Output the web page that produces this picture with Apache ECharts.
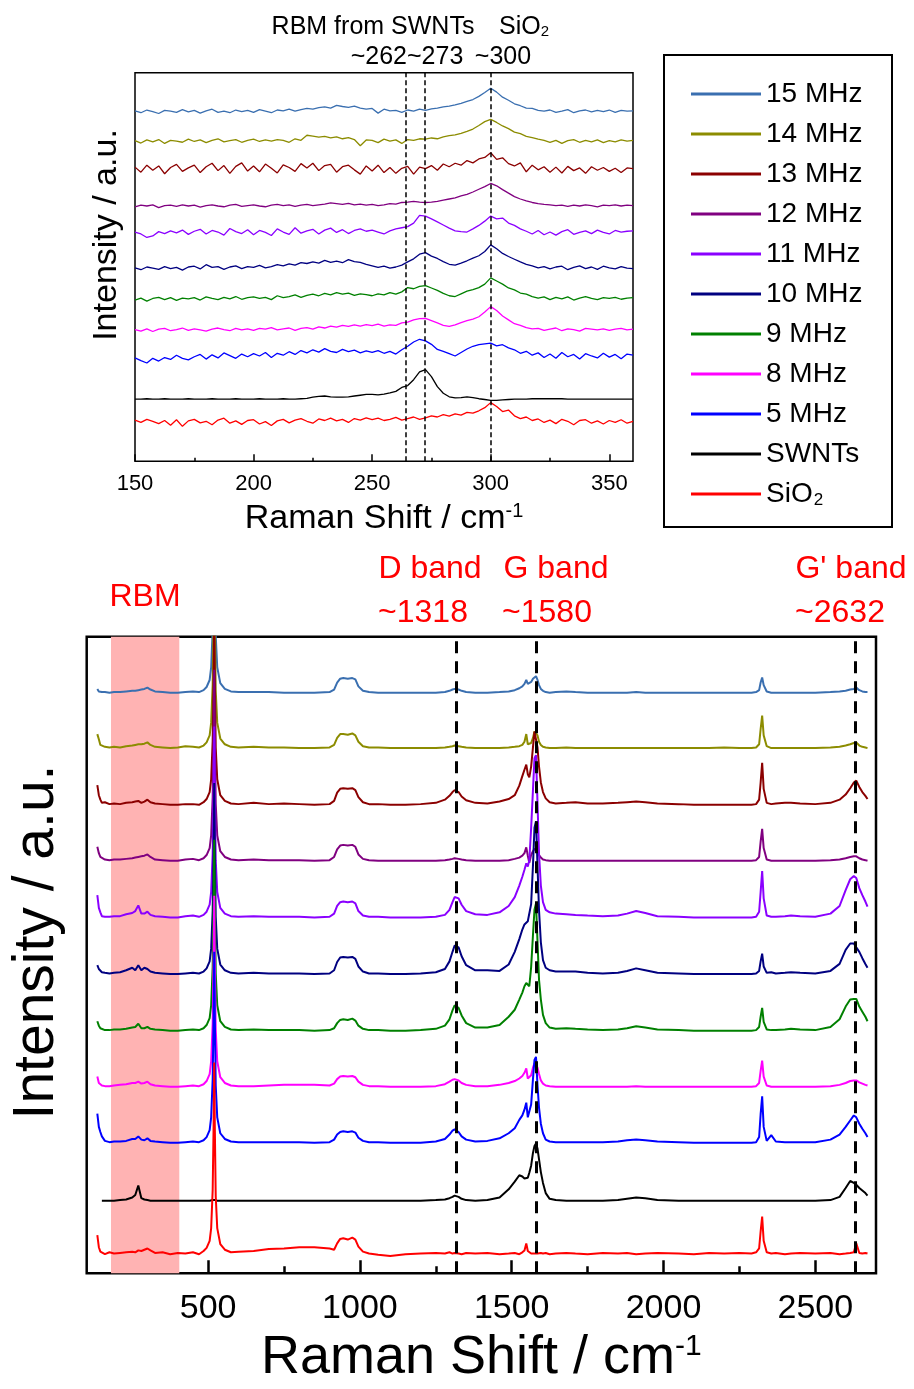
<!DOCTYPE html>
<html><head><meta charset="utf-8">
<script src="https://cdn.jsdelivr.net/npm/echarts@6/dist/echarts.min.js"></script>
<style>html,body{margin:0;padding:0;background:#fff}#c{width:914px;height:1389px}</style>
</head><body><div id="c"></div><script>
const seriesNames = ['15 MHz','14 MHz','13 MHz','12 MHz','11 MHz','10 MHz','9 MHz','8 MHz','5 MHz','SWNTs','SiO2'];
const colors = ['#3a6fb0','#8c8c00','#8b0000','#800080','#8a00ff','#000080','#008000','#ff00ff','#0000ff','#000000','#ff0000'];

// ---------- inset (RBM region) ----------
const topTicks = [150,200,250,300,350];
const topMinorTicks = [175,225,275,325];
const topMarks = [264,272,300];
const topOffsets = [90.0,82.4,75.2,65.7,58.8,49.7,41.8,33.8,27.1,16.0,10.2];
const topX = [150,152.5,155,157.5,160,162.5,165,167.5,170,172.5,175,177.5,180,182.5,185,187.5,190,192.5,195,197.5,200,202.5,205,207.5,210,212.5,215,217.5,220,222.5,225,227.5,230,232.5,235,237.5,240,242.5,245,247.5,250,252.5,255,257.5,260,262.5,265,267.5,270,272.5,275,277.5,280,282.5,285,287.5,290,292.5,295,297.5,300,302.5,305,307.5,310,312.5,315,317.5,320,322.5,325,327.5,330,332.5,335,337.5,340,342.5,345,347.5,350,352.5,355,357.5,360];
const t15 = [0.2,-0.3,0.4,0,-0.5,0.3,0.1,-0.2,0.5,-0.1, 0.3,-0.4,0.2,0.6,-0.2,0.1,-0.3,0.4,0,0.3, -0.2,0.5,0.1,-0.3,0.4,0.2,0.6,0.1,0.5,0.8, 0.6,1.0,1.2,0.9,1.6,1.3,1.1,1.4,0.9,0.6, 0.8,-0.4,0.6,0.2,0.3,-0.2,0.4,0.1,0.6,0.3, 0.7,0.9,1.2,1.4,1.7,2.1,2.6,3.1,3.9,4.9, 6.0,5.0,3.7,2.9,2.0,1.5,0.9,0.8,0.3,0.1, 0.4,-0.2,0.1,0.5,-0.3,0.2,0.4,-0.1,0.3,0, 0.4,-0.2,0.3,0.1,0.2];
const t14 = [0.1,-0.5,0.3,-0.2,0.4,-0.6,0.2,0.0,-0.3,0.5, -0.1,0.3,-0.4,0.2,0.6,-0.2,0.1,0.4,-0.3,0.2, 0.5,-0.1,0.3,0.0,0.4,0.2,-0.3,0.6,0.2,1.5, 1.3,1.0,1.2,0.8,1.1,0.6,0.9,0.4,-1.2,0.3, 0.2,-0.4,0.5,0.0,0.3,-0.6,0.4,0.2,0.6,0.5, 0.8,0.6,1.1,1.4,1.6,2.0,2.5,3.1,4.0,5.0, 5.6,4.8,3.9,3.2,2.3,1.9,1.2,0.9,0.5,0.2, -0.3,0.2,-0.6,0.1,0.4,-0.3,0.2,-0.2,0.3,-0.4, 0.1,-0.2,0.3,0,0.2];
const t13 = [0.5,-0.8,1.0,-0.3,0.8,-1.2,0.4,1.2,-0.6,0.3, 1.0,-0.9,0.6,1.5,-0.4,0.9,-1.1,0.7,1.6,-0.5, 0.8,-0.7,1.3,0.2,-1.0,1.1,0.4,-0.6,1.4,0.3, 1.5,-0.4,0.9,1.2,-0.8,0.6,1.0,-0.2,-1.3,0.8, -0.5,1.0,-0.9,0.4,-1.1,0.2,0.7,-1.3,0.5,0.1, 0.9,-0.3,1.3,0.6,1.5,1.0,2.2,1.6,2.6,3.0, 4.2,2.5,2.9,1.4,0.8,1.6,-0.7,1.0,-0.2,0.6, -0.8,0.5,-1.0,0.7,-0.4,0.3,-1.1,0.6,-0.3,0.4, -0.6,0.2,-0.9,0.3,0.1];
const t12 = [-0.2,0.2,0.0,0.3,-0.4,0.1,0.2,-0.1,0.3,0, 0.2,-0.3,0.1,0.3,0,-0.2,0.2,0.4,-0.1,0.1, 0.3,0,-0.2,0.2,0.4,0.1,0.3,-0.1,0.2,0.4, 0.1,0.3,0.5,0.8,0.6,0.4,0.7,0.3,0.5,0.2, 0.4,0.1,0.3,0.6,0.5,0.9,1.0,1.2,1.0,0.9, 1.0,1.2,1.5,1.8,2.1,2.6,3.0,3.6,4.3,5.0, 5.8,5.2,4.2,3.3,2.4,1.8,1.3,0.9,0.6,0.4, 0.3,0.1,0.2,-0.1,0.2,0,0.3,0.1,-0.2,0.2, 0.1,0.3,0,0.2,0.1];
const t11 = [0.2,-0.3,-1.2,-0.8,0.3,-0.2,0.5,0.0,0.7,-0.4, 0.4,0.9,-0.3,0.6,0.2,-0.6,1.1,0.3,-0.2,0.8, -0.5,0.6,0.1,-0.7,1.0,0.2,-0.4,1.3,-0.1,0.5, 0.9,-0.3,0.7,1.2,0.1,0.8,-0.2,0.6,1.0,0.4, 0.7,0.2,-0.3,0.5,1.0,1.3,1.6,2.5,4.5,4.3, 3.6,2.8,2.0,1.2,0.5,0.3,0.2,1.0,1.9,3.0, 4.3,3.6,3.8,2.5,1.9,1.0,0.4,-0.3,0.6,-0.5, 0.2,-0.6,0.3,0.8,-0.4,0.1,0.5,-0.2,0.7,0.1, -0.3,0.6,0.2,0.4,0.5];
const t10 = [0.1,-0.4,0.3,0.0,-0.3,0.4,-0.1,0.2,-0.5,0.3, 0.5,-0.2,0.9,0.2,0.4,-0.3,0.3,0.6,-0.1,0.4, 0.2,0.7,0.1,0.4,0.9,0.6,1.1,0.8,1.4,1.2, 1.6,1.3,2.0,1.5,1.8,1.4,2.2,1.7,1.5,1.0, 0.6,0.2,0.5,0.0,0.3,0.8,1.6,2.4,3.6,4.0, 3.1,2.5,1.7,1.0,0.8,1.3,1.9,2.6,3.2,4.3, 6.0,5.0,3.8,3.0,2.3,1.6,1.0,0.6,0.1,0.4, -0.2,0.3,0.5,-0.4,0.2,0.6,-0.1,0.3,-0.3,0.5, 0.1,-0.2,0.4,0.0,-0.1];
const t9 = [-0.3,0.2,-0.6,0.1,0.4,-0.2,0.3,-0.4,0.2,0.0, 0.3,-0.3,0.5,0.1,-0.2,0.4,0.0,0.6,-0.1,0.3, 0.5,0.1,0.4,-0.2,0.8,0.3,0.6,1.0,0.4,0.9, 1.2,0.8,1.4,1.0,1.6,1.2,1.5,0.9,1.3,1.1, 0.8,1.3,1.0,1.6,1.2,1.8,2.9,2.6,3.2,3.4, 2.8,2.2,1.4,0.8,0.6,1.3,2.0,2.4,2.9,3.8, 5.4,4.6,3.8,2.8,2.3,1.5,1.2,0.6,0.2,0.5, -0.2,0.4,0.0,0.5,-0.3,0.2,0.6,0.1,-0.2,0.3, 0.1,0.4,-0.1,0.2,0.3];
const t8 = [0.1,-0.3,0.3,-0.4,0.2,0.4,-0.2,0.1,0.5,-0.1, 0.3,0.0,-0.3,0.2,0.5,0.1,-0.2,0.4,0.0,0.3, -0.1,0.4,0.2,0.6,0.0,0.3,0.5,-0.1,0.4,0.6, 0.2,0.8,0.5,1.0,0.7,1.2,0.9,1.3,1.0,1.4, 1.1,1.5,1.0,1.3,1.2,1.8,2.0,2.6,2.9,3.0, 2.4,1.8,1.2,0.9,1.3,1.9,2.4,2.8,3.4,4.6, 6.0,5.0,3.6,2.6,1.6,1.2,0.6,0.3,0.4,-0.1, 0.2,0.5,-0.2,0.3,0.1,-0.3,0.4,0.2,0.0,0.3, -0.1,0.2,0.4,0.0,0.2];
const t5 = [-0.5,-1.2,-1.8,-0.6,-1.3,-0.4,-0.9,0.2,-0.6,-1.0, -0.2,0.4,-0.8,0.3,-0.5,0.8,0.1,-0.6,0.5,-0.2, 0.6,0.0,0.9,-0.4,0.7,0.2,1.1,0.4,1.4,0.8, 1.6,1.0,1.9,1.2,0.9,1.7,1.1,1.5,0.8,1.3, 0.9,1.4,0.7,1.2,0.5,1.6,2.5,3.6,4.3,3.9, 3.0,1.7,1.2,0.6,0.0,0.9,1.8,2.5,2.9,3.1, 3.3,2.6,2.9,2.1,1.6,0.7,1.2,0.2,0.8,-0.4, 0.5,-0.6,0.9,-0.2,0.4,-0.8,0.6,0.0,-0.5,0.7, -0.3,0.4,-0.7,0.5,0.2];
const tSW = [0,0,0.1,0,0,0.1,0,0,0,0.1, 0,0,0,0.1,0,0,0,0.1,0,0, 0,0.1,0,0,0,0.1,0,0,0.1,0.2, 0.5,0.7,0.8,0.6,0.5,0.5,0.6,0.8,1.0,1.2, 1.2,1.1,1.3,1.6,2.0,3.0,3.5,5.0,7.0,7.6, 5.8,3.2,1.5,0.6,0.3,0.4,0.6,0.4,0.1,-0.1, -0.3,-0.3,-0.2,-0.1,0,0,0,0.1,0.1,0.1, 0.1,0.1,0.1,0,0,0,0,0,0,0, 0,0,0,0,0];
const tSi = [0.4,-0.2,0.6,0.1,-0.5,0.3,-0.9,0.5,-1.2,0.2, 0.6,-0.3,0.1,-0.8,0.4,0.9,-0.4,0.2,-0.7,0.3, 0.5,-0.6,0.0,-1.0,0.2,0.6,-0.3,0.4,0.8,0.1, -0.4,0.7,0.3,0.9,0.2,0.6,-0.2,0.8,0.4,1.0, 0.5,0.9,0.3,0.6,1.1,0.4,0.8,1.2,0.6,1.0, 1.5,1.2,1.8,1.4,2.0,1.7,2.4,2.2,2.8,3.6, 4.9,3.9,2.6,3.0,1.5,0.8,1.2,0.3,0.7,-0.2, 0.4,-0.5,0.6,0.1,-0.8,0.3,0.5,-0.4,0.2,-0.6, 0.3,-0.2,0.5,-0.4,0.1];
const topSpectra = [t15,t14,t13,t12,t11,t10,t9,t8,t5,tSW,tSi];

// ---------- full spectra ----------
const botTicks = [500,1000,1500,2000,2500];
const botMinorTicks = [250,750,1250,1750,2250];
const botMarks = [1318,1580,2632];
const rbmBand = [180,405];
const botOffsets = [91.2,82.5,73.6,64.8,55.9,47.0,38.1,29.3,20.5,11.4,3.1];
const botX = [135,140,145,150,160,175,190,210,230,250, 260,270,280,290,300,310,325,350,375,400, 425,450,470,485,495,505,510,515,518,520, 522,525,530,540,555,575,600,650,700,750, 800,850,900,915,925,935,945,960,975,985, 995,1010,1030,1060,1100,1150,1200,1250,1280,1295, 1305,1312,1318,1325,1335,1350,1380,1420,1460,1490, 1510,1525,1535,1542,1548,1553,1558,1564,1570,1575, 1580,1585,1590,1596,1603,1612,1625,1645,1680,1710, 1750,1800,1850,1880,1910,1940,1980,2050,2100,2150, 2200,2250,2290,2305,2315,2320,2325,2330,2340,2355, 2370,2400,2420,2450,2500,2550,2580,2600,2615,2627, 2635,2645,2655,2665,2672];
const b15 = [0.6,0.2,0.4,0.1,0.1,0.0,0.1,0.1,0.2,0.3, 0.3,0.4,0.5,0.6,0.8,0.5,0.2,0.1,0.0,0.0, 0.1,0.2,0.1,0.4,0.9,2,4,10,20,30, 20,9,4,1.5,0.6,0.2,0.1,0.1,0.1,0.0, 0.0,0.0,0.1,0.5,1.6,2.2,2.3,2.2,2.3,2.1, 1.0,0.3,0.1,0.0,0.0,0.0,0.0,0.0,0.1,0.3, 0.5,0.6,0.6,0.5,0.3,0.1,0.0,0.0,0.1,0.2, 0.4,0.7,1.0,1.4,2.0,1.4,1.3,1.7,2.2,2.4, 2.6,2.0,1.2,0.6,0.3,0.1,0.0,0.1,0.2,0.1, 0,0,0,0,0.1,0,0,0,0,0, 0,0,0,0.1,0.4,1.6,2.4,1.2,0.2,0, 0,0,0,0,0,0.1,0.2,0.3,0.5,0.6, 0.8,0.4,0.2,0.1,0.1];
const b14 = [2.2,1.4,0.5,0.2,0.2,0.1,0.2,0.1,0.3,0.4, 0.5,0.6,0.6,0.7,0.9,0.5,0.2,0.1,0.0,0.1, 0.3,0.2,0.1,0.4,0.9,2,4,10,20,30, 20,9,4,1.5,0.6,0.2,0.1,0.2,0.1,0.1, 0.0,0.0,0.1,0.5,1.6,2.2,2.2,2.1,2.3,2.0, 1.0,0.3,0.1,0.1,0.0,0.0,0.0,0.0,0.1,0.2, 0.3,0.4,0.4,0.3,0.2,0.1,0.0,0.0,0.0,0.1, 0.2,0.3,0.5,1.0,2.2,0.6,0.4,0.8,1.6,2.6, 2.9,2.0,1.0,0.5,0.2,0.1,0.0,0.0,0.1,0.0, 0,0,0,0,0,0,0,0,0,0, 0.1,0,0,0.1,0.6,3.0,5.1,2.0,0.3,0, 0,0,0,0,0,0.1,0.2,0.4,0.6,0.8, 0.9,0.4,0.2,0.1,0.0];
const b13 = [3.1,1.5,0.8,0.3,0.4,0.1,0.2,0.1,0.3,0.4, 0.5,0.6,0.3,0.5,0.8,0.4,0.2,0.1,0.0,0.0, 0.1,0.1,0.0,0.4,0.9,2,4,10,20,30, 20,9,4,1.5,0.6,0.2,0.1,0.3,0.1,0.2, 0.1,0.0,0.1,0.6,1.9,2.5,2.6,2.5,2.6,2.3, 1.2,0.4,0.1,0.1,0.0,0.0,0.1,0.3,0.8,1.4, 2.0,2.3,2.4,2.0,1.3,0.7,0.3,0.2,0.5,0.9, 1.5,3.0,4.5,5.5,6.3,4.8,4.3,6.0,9.0,11.5, 11.8,9.0,6.0,3.5,2.0,1.0,0.4,0.2,0.3,0.4, 0.2,0.2,0.3,0.4,0.5,0.4,0.2,0.1,0.0,0.0, 0,0,0,0.1,0.8,3.5,6.6,2.5,0.3,0.1, 0.2,0.3,0.3,0.2,0.1,0.3,0.8,1.6,2.6,3.5, 3.8,2.8,2.0,1.4,0.9];
const b12 = [2.2,1.2,0.6,0.3,0.2,0.1,0.2,0.2,0.3,0.4, 0.5,0.6,0.7,0.8,1.0,0.6,0.2,0.1,0.0,0.0, 0.2,0.3,0.1,0.4,0.9,2,4,10,20,30, 20,9,4,1.5,0.6,0.2,0.1,0.2,0.1,0.1, 0.1,0.0,0.1,0.6,1.8,2.4,2.5,2.4,2.5,2.2, 1.0,0.3,0.1,0.0,0.0,0.0,0.0,0.0,0.1,0.2, 0.3,0.4,0.5,0.3,0.2,0.1,0.0,0.0,0.0,0.1, 0.3,0.5,0.8,1.2,2.1,0.8,-0.3,0.9,1.5,1.9, 2.0,1.5,0.9,0.5,0.2,0.1,0.0,0.0,0.0,0.0, 0,0,0,0,0,0,0,0,0,0, 0,0,0,0.1,0.6,3.0,5.0,2.0,0.2,0, 0,0,0,0,0,0.1,0.2,0.4,0.6,0.7, 0.7,0.4,0.2,0.1,0.0];
const b11 = [3.5,1.5,0.8,0.2,0.1,0.1,0.2,0.2,0.5,0.7, 1.0,1.9,0.6,0.6,0.9,0.4,0.2,0.1,0.0,0.0, 0.2,0.3,0.1,0.4,0.9,2,4,10,20,30, 20,9,4,1.5,0.6,0.2,0.1,0.2,0.1,0.1, 0.1,0.0,0.1,0.6,1.8,2.4,2.5,2.4,2.5,2.2, 1.0,0.3,0.1,0.1,0.0,0.0,0.0,0.1,0.4,1.2, 2.4,3.2,3.5,3.0,2.0,1.0,0.5,0.4,0.8,1.8, 3.2,5.0,6.4,7.5,8.5,8.0,9.0,14.0,20.0,25.0, 25.5,18.0,10.0,5.0,2.4,1.2,0.8,0.6,0.5,0.4, 0.3,0.2,0.3,0.6,1.0,0.7,0.2,0.1,0.0,0.0, 0,0,0,0.1,0.9,4.0,7.3,3.0,0.3,0.1, 0.1,0.2,0.3,0.2,0.1,0.6,1.8,4.3,6.0,6.5, 6.2,4.6,3.5,2.5,1.7];
const b10 = [1.4,0.8,0.5,0.3,0.2,0.1,0.2,0.3,0.6,1.0, 0.6,1.4,0.6,1.0,0.8,0.4,0.2,0.1,0.0,0.0, 0.1,0.2,0.1,0.4,0.9,2,4,10,20,30, 20,9,4,1.5,0.6,0.2,0.1,0.2,0.1,0.1, 0.1,0.0,0.1,0.6,1.9,2.6,2.7,2.6,2.7,2.4, 1.2,0.4,0.1,0.1,0.0,0.0,0.1,0.3,0.8,2.0, 3.5,4.5,4.8,4.2,2.8,1.4,0.6,0.6,0.5,1.5, 3.5,5.5,7.0,7.8,8.0,8.3,8.6,11.0,17.0,23.0, 24.0,17.0,10.0,5.0,2.2,1.0,0.6,0.4,0.4,0.4, 0.2,0.1,0.2,0.5,0.9,0.6,0.2,0.1,0.0,0.0, 0,0,0,0.1,0.5,2.0,3.2,1.2,0.2,0.3, 0.1,0.2,0.3,0.2,0.1,0.5,1.6,3.8,4.8,4.8, 4.2,3.5,2.5,1.6,1.0];
const b9 = [1.5,0.8,0.4,0.2,0.1,0.1,0.2,0.2,0.3,0.5, 0.6,1.1,0.4,0.4,0.6,0.3,0.2,0.1,0.0,0.0, 0.1,0.2,0.1,0.4,0.9,2,4,10,20,30, 20,9,4,1.5,0.6,0.2,0.1,0.2,0.1,0.1, 0.1,0.0,0.1,0.4,1.2,1.7,1.8,1.7,1.9,1.6, 0.8,0.3,0.1,0.1,0.0,0.0,0.1,0.3,0.8,1.8, 3.2,4.0,4.2,3.6,2.4,1.2,0.5,0.5,0.9,2.2, 3.3,4.9,6.0,7.0,7.5,7.2,7.0,10.0,15.0,19.0, 20.0,14.0,8.0,4.9,2.5,1.2,0.5,0.3,0.4,0.3, 0.2,0.1,0.2,0.4,0.7,0.5,0.2,0.1,0.0,0.0, 0,0,0,0.1,0.6,2.2,3.6,1.4,0.2,0.1, 0.1,0.2,0.3,0.2,0.1,0.6,1.8,3.8,4.9,5.0, 5.0,3.8,3.0,2.2,1.5];
const b8 = [1.6,0.6,0.3,0.2,0.1,0.1,0.2,0.3,0.4,0.6, 0.6,0.8,0.5,0.6,0.8,0.4,0.2,0.1,0.0,0.0, 0.1,0.2,0.1,0.4,0.9,2,4,10,20,30, 20,9,4,1.5,0.6,0.2,0.1,0.1,0.2,0.3, 0.3,0.3,0.2,0.5,1.2,1.6,1.7,1.6,1.7,1.5, 0.8,0.3,0.1,0.1,0.0,0.0,0.0,0.1,0.4,0.8, 1.1,1.2,1.2,1.0,0.6,0.3,0.1,0.1,0.3,0.6, 0.9,1.3,1.7,2.2,2.9,1.3,1.0,1.8,3.0,3.7, 3.8,3.0,2.0,1.0,0.5,0.2,0.1,0.0,0.0,0.0, 0,0,0,0,0.1,0,0,0,0,0, 0,0,0,0.1,0.6,2.5,4.1,1.6,0.2,0, 0,0,0,0,0,0.1,0.3,0.6,0.9,1.0, 1.0,0.7,0.5,0.3,0.2];
const b5 = [4.6,2.5,1.7,1.0,0.3,0.1,0.2,0.2,0.3,0.6, 0.6,1.0,0.5,0.4,0.7,0.3,0.2,0.1,0.0,0.0, 0.1,0.2,0.1,0.4,0.9,2,4,10,20,30, 20,9,4,1.5,0.6,0.2,0.1,0.1,0.1,0.1, 0.1,0.0,0.1,0.5,1.3,1.7,1.8,1.7,1.8,1.6, 0.8,0.3,0.1,0.1,0.0,0.0,0.0,0.2,0.6,1.3, 1.9,2.1,2.1,1.7,1.0,0.5,0.2,0.3,0.7,1.5, 2.3,3.6,4.3,5.2,6.3,4.0,3.8,6.0,10.0,13.0, 13.5,9.0,5.5,3.0,1.5,0.5,0.2,0.1,0.1,0.1, 0.1,0.1,0.2,0.4,0.5,0.4,0.2,0.1,0.0,0.0, 0,0,0,0.1,0.9,4.5,7.3,2.5,0.3,1.2, 0.2,0.1,0.1,0.1,0.1,0.5,1.3,2.5,3.5,4.3, 4.0,3.0,2.2,1.5,0.9];
const bSW = [null,null,null,0.0,0.0,0.0,0.0,0.1,0.2,0.5, 0.9,2.4,0.4,0.2,0.1,0.0,0.0,0.0,0.0,0.0, 0.0,0.0,0.0,0.0,0.0,0.0,0.0,0.1,0.1,0.1, 0.1,0.1,0.0,0.0,0.0,0.0,0.0,0.0,0.0,0.0, 0,0,0,0,0,0,0,0,0,0, 0.0,0.0,0.0,0.0,0.0,0.0,0.0,0.1,0.2,0.4, 0.6,0.8,0.9,0.6,0.3,0.1,0.0,0.1,0.5,1.8, 3.0,4.0,3.8,3.5,3.2,3.6,4.4,5.5,7.5,8.6, 9.0,8.2,6.5,4.5,2.8,1.2,0.3,0.1,0.0,0.0, 0.0,0.0,0.1,0.3,0.5,0.4,0.1,0.0,0.0,0.0, 0,0,0,0,0,0,0,0,0,0, 0.0,0.0,0.0,0.0,0.0,0.1,0.6,2.0,3.1,2.8, 2.5,2.0,1.6,1.2,0.8];
const bSi = [2.9,1.0,0.3,0.1,-0.1,0.2,0.0,0.1,0.2,0.3, 0.2,0.5,0.4,0.6,0.8,0.5,0.1,0.2,-0.1,0.1, 0.0,0.2,-0.1,0.4,0.9,2,4,10,20,30, 20,9,4,1.5,0.6,0.2,0.3,0.4,0.7,0.8, 1.0,1.0,0.8,0.6,1.6,2.3,2.4,2.2,2.5,2.2, 1.1,0.3,0.0,-0.2,-0.4,-0.1,0.0,0.1,0.0,0.2, 0.0,0.1,0.2,0.0,-0.1,0.1,0.0,0.1,-0.1,0.0, 0.1,-0.1,0.2,0.5,1.6,0.4,0.1,0.0,0.1,0.0, 0.1,0.0,-0.1,0.1,0.0,0.1,-0.1,0.0,0.1,0.0, -0.1,0.1,0.0,0.1,-0.1,0.0,0.1,0.0,-0.1,0.1, 0.0,0.1,0.0,0.2,0.8,3.5,5.8,2.0,0.2,0.0, 0.1,-0.1,0.0,0.1,0.0,0.1,-0.1,0.0,0.1,0.2, 1.6,0.1,0.0,0.1,0.0];
const botSpectra = [b15,b14,b13,b12,b11,b10,b9,b8,b5,bSW,bSi];

const FONT = 'Liberation Sans, Arial, sans-serif';
const chart = echarts.init(document.getElementById('c'), null, {renderer:'canvas'});

const series = [];
seriesNames.forEach((n,k)=>{
  series.push({name:n,type:'line',xAxisIndex:0,yAxisIndex:0,symbol:'none',silent:true,animation:false,z:3,
    lineStyle:{color:colors[k],width:1.3},itemStyle:{color:colors[k]},
    data: topX.map((x,i)=>[x, topSpectra[k][i]+topOffsets[k]])});
});
seriesNames.forEach((n,k)=>{
  series.push({name:n,type:'line',xAxisIndex:1,yAxisIndex:1,symbol:'none',silent:true,animation:false,z:3,
    lineStyle:{color:colors[k],width:2},itemStyle:{color:colors[k]},
    data: botX.map((x,i)=>[x, botSpectra[k][i]===null?null:botSpectra[k][i]+botOffsets[k]])});
});
series.push({type:'line',xAxisIndex:1,yAxisIndex:1,data:[],silent:true,z:1,
  markArea:{silent:true,itemStyle:{color:'#ffb3b3'},data:[[{xAxis:rbmBand[0]},{xAxis:rbmBand[1]}]]}});
series.push({type:'line',xAxisIndex:0,yAxisIndex:0,data:[],silent:true,z:5,
  markLine:{silent:true,symbol:['none','none'],label:{show:false},animation:false,
    lineStyle:{color:'#000',type:[5,3],width:1.5},data:topMarks.map(v=>({xAxis:v}))}});
series.push({type:'line',xAxisIndex:1,yAxisIndex:1,data:[],silent:true,z:5,
  markLine:{silent:true,symbol:['none','none'],label:{show:false},animation:false,
    lineStyle:{color:'#000',type:[12,8],width:3},data:botMarks.map(v=>({xAxis:v}))}});

const plain = v => String(v);
chart.setOption({
  animation:false,
  textStyle:{fontFamily:FONT},
  legend:{orient:'vertical',left:686,top:74,itemWidth:70,itemHeight:3,itemGap:10,icon:'rect',
    data:seriesNames, selectedMode:false,
    formatter:n=> n==='SiO2' ? 'SiO{s|2}' : n,
    textStyle:{fontSize:28,lineHeight:30,color:'#000',fontFamily:FONT,
      rich:{s:{fontSize:17,verticalAlign:'bottom',fontFamily:FONT,color:'#000',padding:[0,0,0,1]}}}},
  grid:[
    {left:135,top:72.7,width:498,height:388.6,show:true,borderColor:'#000',borderWidth:1.5,backgroundColor:'transparent'},
    {left:86.7,top:636.7,width:789.3,height:636.6,show:true,borderColor:'#000',borderWidth:2.5,backgroundColor:'transparent'}
  ],
  xAxis:[
    {type:'value',gridIndex:0,min:150,max:360,position:'bottom',
      axisLine:{show:false},splitLine:{show:false},
      axisTick:{show:true,inside:true,length:7,customValues:topTicks,lineStyle:{color:'#000',width:1.5}},
      axisLabel:{customValues:topTicks,formatter:plain,fontSize:22,margin:12,color:'#000',fontFamily:FONT},
      name:'Raman Shift / cm{sup|-1}',nameLocation:'middle',nameGap:40,
      nameTextStyle:{fontSize:34,color:'#000',fontFamily:FONT,rich:{sup:{fontSize:20,verticalAlign:'top',fontFamily:FONT,color:'#000'}}}},
    {type:'value',gridIndex:1,min:100,max:2700,position:'bottom',
      axisLine:{show:false},splitLine:{show:false},
      axisTick:{show:true,inside:true,length:13,customValues:botTicks,lineStyle:{color:'#000',width:2.5}},
      axisLabel:{customValues:botTicks,formatter:plain,fontSize:34,margin:18,color:'#000',fontFamily:FONT},
      name:'Raman Shift / cm{sup|-1}',nameLocation:'middle',nameGap:58,
      nameTextStyle:{fontSize:54,color:'#000',fontFamily:FONT,rich:{sup:{fontSize:30,verticalAlign:'top',fontFamily:FONT,color:'#000'}}}},
    {type:'value',gridIndex:0,min:150,max:360,position:'bottom',
      axisLine:{show:false},splitLine:{show:false},axisLabel:{show:false},
      axisTick:{show:true,inside:true,length:3.5,customValues:topMinorTicks,lineStyle:{color:'#000',width:1.5}}},
    {type:'value',gridIndex:1,min:100,max:2700,position:'bottom',
      axisLine:{show:false},splitLine:{show:false},axisLabel:{show:false},
      axisTick:{show:true,inside:true,length:7,customValues:botMinorTicks,lineStyle:{color:'#000',width:2.5}}}
  ],
  yAxis:[
    {type:'value',gridIndex:0,min:0,max:100,show:false},
    {type:'value',gridIndex:1,min:0,max:100,show:false}
  ],
  graphic:[
    {type:'rect',shape:{x:664,y:55,width:228,height:472},style:{fill:'none',stroke:'#000',lineWidth:2},z:10},
    {type:'text',x:107,y:235,rotation:Math.PI/2,style:{text:'Intensity / a.u.',font:'34px '+FONT,fill:'#000',align:'center',verticalAlign:'middle'}},
    {type:'text',x:37,y:942,rotation:Math.PI/2,style:{text:'Intensity / a.u.',font:'57px '+FONT,fill:'#000',align:'center',verticalAlign:'middle'}},
    {type:'text',x:373,y:27,style:{text:'RBM from SWNTs',font:'25px '+FONT,fill:'#000',align:'center',verticalAlign:'middle'}},
    {type:'text',x:524,y:27,style:{text:'SiO{s|2}',font:'25px '+FONT,fill:'#000',align:'center',verticalAlign:'middle',
      rich:{s:{font:'15px '+FONT,fill:'#000',verticalAlign:'bottom'}}}},
    {type:'text',x:407,y:57,style:{text:'~262~273',font:'25px '+FONT,fill:'#000',align:'center',verticalAlign:'middle'}},
    {type:'text',x:503,y:57,style:{text:'~300',font:'25px '+FONT,fill:'#000',align:'center',verticalAlign:'middle'}},
    {type:'text',x:145,y:597,style:{text:'RBM',font:'32px '+FONT,fill:'#ff0000',align:'center',verticalAlign:'middle'}},
    {type:'text',x:430,y:569,style:{text:'D band',font:'32px '+FONT,fill:'#ff0000',align:'center',verticalAlign:'middle'}},
    {type:'text',x:423,y:613,style:{text:'~1318',font:'32px '+FONT,fill:'#ff0000',align:'center',verticalAlign:'middle'}},
    {type:'text',x:556,y:569,style:{text:'G band',font:'32px '+FONT,fill:'#ff0000',align:'center',verticalAlign:'middle'}},
    {type:'text',x:547,y:613,style:{text:'~1580',font:'32px '+FONT,fill:'#ff0000',align:'center',verticalAlign:'middle'}},
    {type:'text',x:851,y:569,style:{text:"G' band",font:'32px '+FONT,fill:'#ff0000',align:'center',verticalAlign:'middle'}},
    {type:'text',x:840,y:613,style:{text:'~2632',font:'32px '+FONT,fill:'#ff0000',align:'center',verticalAlign:'middle'}}
  ],
  series
});
</script></body></html>
